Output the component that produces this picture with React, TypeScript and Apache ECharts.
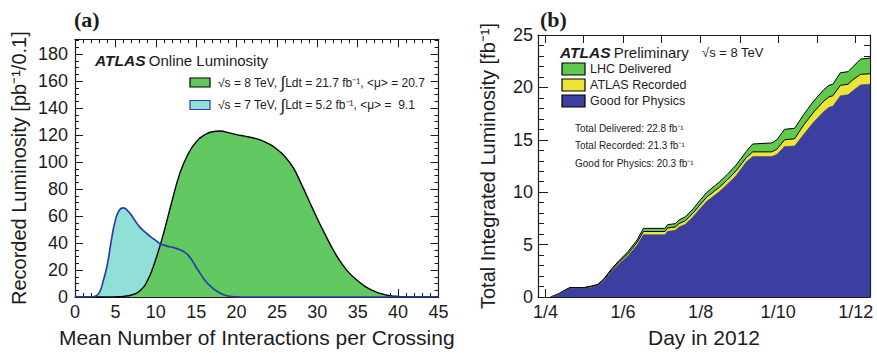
import { useEffect, useRef } from "react";
import * as echarts from "echarts";

const FONT = "'Liberation Sans', Arial, Helvetica, sans-serif";
const SERIF = "'Liberation Serif', 'Times New Roman', serif";
const INK = "#1c1c1c";

// (a) pile-up distributions: mean interactions per crossing vs recorded luminosity
const MU_8TEV = [0, 1, 2, 3, 4, 5, 6, 7, 8, 9, 10, 11, 12, 13, 14, 15, 16, 17, 18, 19, 20, 21, 22, 23, 24, 25, 26, 27, 28, 29, 30, 31, 32, 33, 34, 35, 36, 37, 38, 39, 40, 41, 42, 43, 44, 45];
const LUMI_8TEV = [0, 0, 0, 0, 0, 0.1, 0.5, 1.5, 4.5, 12.5, 28, 48, 71, 92, 106, 115, 120, 122.5, 123, 121.8, 120.3, 119.2, 118, 116.3, 113.5, 109.5, 104, 96, 84, 71, 58, 46, 34.5, 25, 17.5, 12, 7.5, 4.5, 2.3, 1, 0.4, 0.1, 0, 0, 0, 0];
const MU_7TEV = [0, 1, 2, 2.5, 3, 3.5, 4, 4.5, 5, 5.5, 6, 6.5, 7, 7.5, 8, 8.5, 9, 9.5, 10, 10.5, 11, 11.5, 12, 12.5, 13, 13.5, 14, 14.5, 15, 15.5, 16, 16.5, 17, 17.5, 18, 18.5, 19, 20, 21, 45];
const LUMI_7TEV = [0, 0, 0, 0.5, 3, 12, 24, 42, 57, 64.5, 66, 64, 60.5, 56, 52, 49, 46.5, 44, 42, 39.5, 38.5, 37.5, 37, 36, 35, 33.5, 31, 27, 22, 17.5, 13, 9.5, 6.8, 4.6, 2.8, 1.5, 0.7, 0.15, 0, 0];

// (b) cumulative integrated luminosity in 2012, days counted from 1 April
const DAY = [4, 10, 15, 19, 30, 36, 41, 46, 52, 58, 65, 72, 77, 94, 96, 102, 105, 110, 116, 122, 127, 133, 137, 143, 150, 158, 163, 178, 182, 188, 196, 203, 211, 219, 223, 226, 232, 238, 242, 248, 255.3];
const DELIVERED = [0, 0.3, 0.65, 0.9, 0.9, 1.05, 1.2, 1.75, 2.7, 3.5, 4.35, 5.45, 6.55, 6.55, 6.9, 7.0, 7.35, 7.65, 8.4, 9.3, 10.0, 10.6, 11.0, 11.7, 12.6, 13.9, 14.6, 14.7, 15.0, 16.0, 16.1, 17.4, 18.7, 19.8, 20.2, 20.3, 21.4, 21.5, 22.0, 22.7, 22.8];
const RECORDED = [0, 0.28, 0.61, 0.85, 0.85, 1.0, 1.14, 1.67, 2.58, 3.35, 4.15, 5.2, 6.25, 6.25, 6.58, 6.68, 7.0, 7.28, 8.0, 8.87, 9.55, 10.12, 10.5, 11.18, 12.05, 13.3, 13.85, 13.85, 14.1, 15.0, 15.1, 16.4, 17.65, 18.7, 19.1, 19.2, 20.2, 20.3, 20.75, 21.25, 21.3];
const GOOD = [0, 0.26, 0.57, 0.8, 0.8, 0.94, 1.07, 1.58, 2.45, 3.18, 3.95, 4.95, 5.95, 5.95, 6.27, 6.36, 6.68, 6.95, 7.65, 8.5, 9.15, 9.7, 10.08, 10.75, 11.6, 12.9, 13.4, 13.4, 13.6, 14.35, 14.4, 15.5, 16.7, 17.7, 18.1, 18.2, 19.2, 19.3, 19.7, 20.25, 20.3];

// first day of each month from April to December
const MONTH_STARTS = [0, 30, 61, 91, 122, 153, 183, 214, 244];
const DATE_TICKS = [0, 61, 122, 183, 244];
const DATE_TEXT = ["1/4", "1/6", "1/8", "1/10", "1/12"];

const GREEN_A = "#62c962";
const CYAN_A = "#90e0d8";
const BLUE_LINE = "#2c3ca8";
const GREEN_B = "#5ec94c";
const YELLOW_B = "#ece437";
const BLUE_B = "#3b3f9f";

const pairs = (xs: number[], ys: number[]) => xs.map((x, i) => [x, ys[i]]);

const frameLine = { show: true, onZero: false, lineStyle: { color: INK, width: 1.2 } };
const tickStyle = { color: INK, width: 1 };
const labelStyle = { color: INK, fontSize: 18, fontFamily: FONT };
const nameStyle = { color: INK, fontSize: 20, fontFamily: FONT };
const xNameStyle = { color: INK, fontSize: 21, fontFamily: FONT };

export default function App() {
  const ref = useRef<HTMLDivElement>(null);

  useEffect(() => {
    if (!ref.current) return;
    const chart = echarts.init(ref.current, undefined, { renderer: "svg" });

    const muAxis = (position: "bottom" | "top") => ({
      type: "value",
      gridIndex: 0,
      position,
      min: 0,
      max: 45,
      interval: 5,
      axisLine: frameLine,
      axisTick: { inside: true, length: 8, lineStyle: tickStyle },
      minorTick: { show: true, splitNumber: 5, length: 4, lineStyle: tickStyle },
      splitLine: { show: false },
      axisLabel: position === "bottom" ? { ...labelStyle, margin: 6 } : { show: false },
      ...(position === "bottom"
        ? {
            name: "Mean Number of Interactions per Crossing",
            nameLocation: "middle",
            nameGap: 30,
            nameTextStyle: xNameStyle,
          }
        : {}),
    });

    const lumiAxis = (position: "left" | "right") => ({
      type: "value",
      gridIndex: 0,
      position,
      min: 0,
      max: 191,
      interval: 20,
      axisLine: frameLine,
      axisTick: { inside: true, length: 8, lineStyle: tickStyle },
      minorTick: { show: true, splitNumber: 4, length: 4, lineStyle: tickStyle },
      splitLine: { show: false },
      axisLabel: position === "left" ? { ...labelStyle, margin: 7, showMaxLabel: false } : { show: false },
      ...(position === "left"
        ? {
            name: "Recorded Luminosity [pb⁻¹/0.1]",
            nameLocation: "middle",
            nameGap: 46,
            nameTextStyle: nameStyle,
          }
        : {}),
    });

    const dayAxis = (position: "bottom" | "top") => ({
      type: "value",
      gridIndex: 1,
      position,
      min: -6,
      max: 255.3,
      axisLine: frameLine,
      axisTick: { inside: true, length: 8, lineStyle: tickStyle, customValues: MONTH_STARTS },
      splitLine: { show: false },
      axisLabel:
        position === "bottom"
          ? {
              ...labelStyle,
              margin: 6,
              customValues: DATE_TICKS,
              formatter: (v: number) => DATE_TEXT[DATE_TICKS.indexOf(Math.round(v))] ?? "",
            }
          : { show: false },
      ...(position === "bottom"
        ? { name: "Day in 2012", nameLocation: "middle", nameGap: 30, nameTextStyle: xNameStyle }
        : {}),
    });

    const intAxis = (position: "left" | "right") => ({
      type: "value",
      gridIndex: 1,
      position,
      min: 0,
      max: 25,
      interval: 5,
      axisLine: frameLine,
      axisTick: { inside: true, length: 10, lineStyle: tickStyle },
      minorTick: { show: true, splitNumber: 5, length: 6, lineStyle: tickStyle },
      splitLine: { show: false },
      axisLabel: position === "left" ? { ...labelStyle, margin: 5 } : { show: false },
      ...(position === "left"
        ? {
            name: "Total Integrated Luminosity [fb⁻¹]",
            nameLocation: "middle",
            nameGap: 40,
            nameTextStyle: nameStyle,
          }
        : {}),
    });

    const txt = (x: number, y: number, text: string, size: number, extra: any = {}) => ({
      type: "text",
      x,
      y,
      silent: true,
      style: {
        text,
        fill: INK,
        font: `${size}px ${FONT}`,
        verticalAlign: "middle",
        align: "left",
        ...extra,
      },
    });

    const box = (x: number, y: number, w: number, h: number, fill: string, stroke: string) => ({
      type: "rect",
      silent: true,
      shape: { x, y, width: w, height: h },
      style: { fill, stroke, lineWidth: 1.2 },
    });

    const legendRich = {
      t: { fontSize: 12, fontFamily: FONT, fill: INK },
      i: { fontSize: 17, fontFamily: FONT, fill: INK },
    };

    const smoothCurve = {
      type: "line",
      xAxisIndex: 0,
      yAxisIndex: 0,
      smooth: 0.5,
      showSymbol: false,
      silent: true,
    };

    chart.setOption({
      animation: false,
      backgroundColor: "#ffffff",
      grid: [
        { left: 75, right: 438.5, top: 39.3, bottom: 54.7 },
        { left: 538, right: 7, top: 35, bottom: 55 },
      ],
      xAxis: [muAxis("bottom"), muAxis("top"), dayAxis("bottom"), dayAxis("top")],
      yAxis: [lumiAxis("left"), lumiAxis("right"), intAxis("left"), intAxis("right")],
      series: [
        {
          ...smoothCurve,
          name: "7 TeV fill",
          data: pairs(MU_7TEV, LUMI_7TEV),
          lineStyle: { width: 0 },
          areaStyle: { color: CYAN_A, opacity: 1 },
          z: 1,
        },
        {
          ...smoothCurve,
          name: "8 TeV",
          data: pairs(MU_8TEV, LUMI_8TEV),
          lineStyle: { color: "#000000", width: 1.4 },
          areaStyle: { color: GREEN_A, opacity: 1 },
          z: 2,
        },
        {
          ...smoothCurve,
          name: "7 TeV",
          data: pairs(MU_7TEV, LUMI_7TEV),
          lineStyle: { color: BLUE_LINE, width: 1.7 },
          z: 3,
        },
        {
          name: "LHC Delivered",
          type: "line",
          xAxisIndex: 2,
          yAxisIndex: 2,
          data: pairs(DAY, DELIVERED),
          showSymbol: false,
          silent: true,
          lineStyle: { color: "#000000", width: 1 },
          areaStyle: { color: GREEN_B, opacity: 1 },
          z: 1,
        },
        {
          name: "ATLAS Recorded",
          type: "line",
          xAxisIndex: 2,
          yAxisIndex: 2,
          data: pairs(DAY, RECORDED),
          showSymbol: false,
          silent: true,
          lineStyle: { color: "#000000", width: 1 },
          areaStyle: { color: YELLOW_B, opacity: 1 },
          z: 2,
        },
        {
          name: "Good for Physics",
          type: "line",
          xAxisIndex: 2,
          yAxisIndex: 2,
          data: pairs(DAY, GOOD),
          showSymbol: false,
          silent: true,
          lineStyle: { color: BLUE_B, width: 0.5 },
          areaStyle: { color: BLUE_B, opacity: 1 },
          z: 3,
        },
      ],
      graphic: [
        txt(74, 19, "(a)", 22, { font: `bold 22px ${SERIF}` }),
        txt(540, 19, "(b)", 22, { font: `bold 22px ${SERIF}` }),
        {
          type: "text",
          x: 95,
          y: 60,
          silent: true,
          style: {
            text: "{b|ATLAS} {n|Online Luminosity}",
            verticalAlign: "middle",
            rich: {
              b: { fontSize: 15.5, fontWeight: "bold", fontStyle: "italic", fontFamily: FONT, fill: INK },
              n: { fontSize: 15, fontFamily: FONT, fill: INK },
            },
          },
        },
        box(190, 78, 20, 9, GREEN_A, "#000000"),
        box(190, 100.5, 20, 9, CYAN_A, BLUE_LINE),
        {
          type: "text",
          x: 218,
          y: 82.5,
          silent: true,
          style: {
            text: "{t|√s = 8 TeV, }{i|∫}{t|Ldt = 21.7 fb⁻¹, <μ> = 20.7}",
            verticalAlign: "middle",
            rich: legendRich,
          },
        },
        {
          type: "text",
          x: 218,
          y: 105,
          silent: true,
          style: {
            text: "{t|√s = 7 TeV, }{i|∫}{t|Ldt = 5.2 fb⁻¹, <μ> =  9.1}",
            verticalAlign: "middle",
            rich: legendRich,
          },
        },
        {
          type: "text",
          x: 560,
          y: 52,
          silent: true,
          style: {
            text: "{b|ATLAS} {n|Preliminary}",
            verticalAlign: "middle",
            rich: {
              b: { fontSize: 15.5, fontWeight: "bold", fontStyle: "italic", fontFamily: FONT, fill: INK },
              n: { fontSize: 15, fontFamily: FONT, fill: INK },
            },
          },
        },
        txt(702, 52, "√s = 8 TeV", 13),
        box(562, 63, 23, 12, GREEN_B, "#000000"),
        box(562, 79, 23, 12, YELLOW_B, "#000000"),
        box(562, 95, 23, 12, BLUE_B, "#000000"),
        txt(590, 69, "LHC Delivered", 12.5),
        txt(590, 85, "ATLAS Recorded", 12.5),
        txt(590, 101, "Good for Physics", 12.5),
        txt(575, 128, "Total Delivered: 22.8 fb⁻¹", 10),
        txt(575, 145, "Total Recorded: 21.3 fb⁻¹", 10),
        txt(575, 163, "Good for Physics: 20.3 fb⁻¹", 10),
      ],
    });

    return () => chart.dispose();
  }, []);

  return (
    <div
      ref={ref}
      style={{ position: "fixed", left: 0, top: 0, width: 877, height: 353, background: "#ffffff" }}
    />
  );
}
